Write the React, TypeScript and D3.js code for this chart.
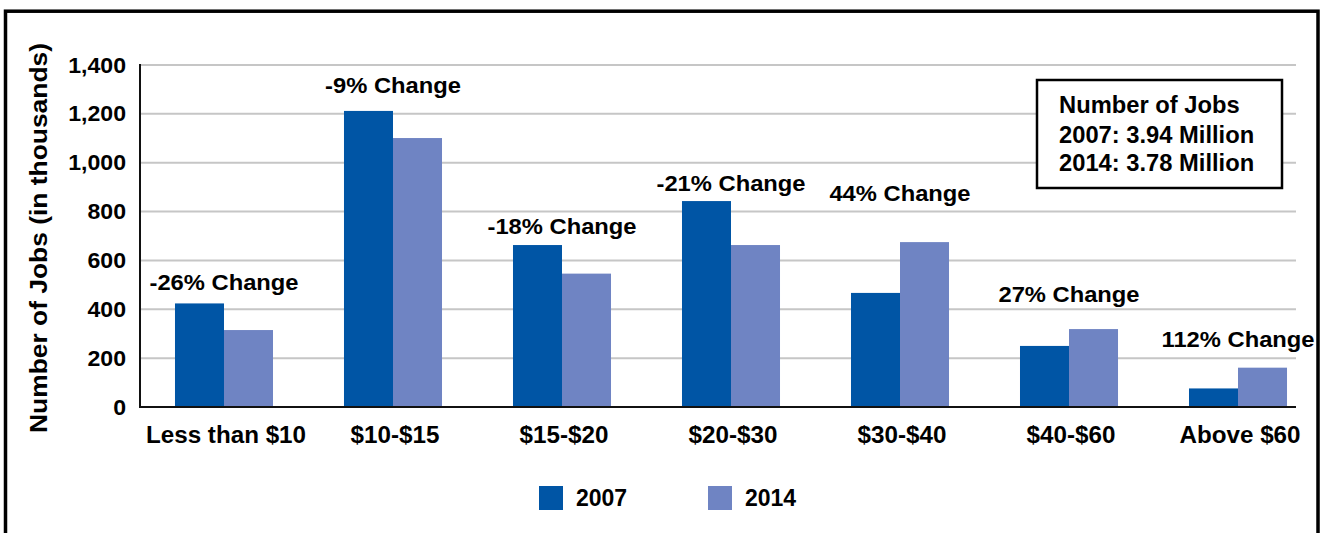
import React from "react";
import * as d3 from "d3";

const categories = ["Less than $10", "$10-$15", "$15-$20", "$20-$30", "$30-$40", "$40-$60", "Above $60"];
const seriesNames = ["2007", "2014"];
const jobs2007 = [424, 1212, 663, 843, 467, 250, 76];
const jobs2014 = [315, 1101, 546, 663, 675, 319, 161];
const changeLabels = ["-26% Change", "-9% Change", "-18% Change", "-21% Change", "44% Change", "27% Change", "112% Change"];
const changeLabelAt = [479, 1285, 708, 884, 843, 430, 246];
const yTicks = [0, 200, 400, 600, 800, 1000, 1200, 1400];
const infoTitle = "Number of Jobs";
const infoLines = ["2007: 3.94 Million", "2014: 3.78 Million"];
const yTitle = "Number of Jobs (in thousands)";

const COLORS = ["#0055A5", "#6F84C3"];
const FONT = "'Liberation Sans', Arial, Helvetica, sans-serif";

function T({ x, y, size, sx = 1, anchor = "start", rotate = 0, children }: any) {
  return (
    <g transform={`translate(${x},${y}) rotate(${rotate}) scale(${sx},1)`}>
      <text textAnchor={anchor} fontSize={size} fontWeight="bold" fontFamily={FONT} fill="#000">
        {children}
      </text>
    </g>
  );
}

export default function App() {
  const W = 1325, H = 533;
  const plotLeft = 140, plotRight = 1296;
  const y = d3.scaleLinear().domain([0, 1400]).range([407, 65]);
  const x = d3.scaleBand<string>().domain(categories).range([140, 1322]).paddingInner(0.42).paddingOuter(0.207);
  const x1 = d3.scaleBand<string>().domain(seriesNames).range([0, x.bandwidth()]);
  const fmt = d3.format(",");
  const series = [jobs2007, jobs2014];

  return (
    <svg width={W} height={H} style={{ position: "absolute", left: 0, top: 0, display: "block", background: "#fff" }}>
      <rect x={0} y={0} width={W} height={H} fill="#fff" />
      {/* outer frame */}
      <rect x={5.5} y={11.2} width={1312.5} height={560} fill="none" stroke="#000" strokeWidth={3.5} />

      {/* gridlines */}
      {yTicks.filter((t) => t > 0).map((t) => (
        <line key={t} x1={plotLeft} x2={plotRight} y1={y(t)} y2={y(t)} stroke="#c6c6c6" strokeWidth={2} />
      ))}

      {/* bars */}
      {categories.map((c, i) => (
        <g key={c} transform={`translate(${x(c)},0)`}>
          {seriesNames.map((s, j) => (
            <rect key={s} x={x1(s)} y={y(series[j][i])} width={x1.bandwidth()} height={y(0) - y(series[j][i])} fill={COLORS[j]} />
          ))}
        </g>
      ))}

      {/* axes */}
      <line x1={plotLeft} x2={plotLeft} y1={y(1400) - 1} y2={y(0) + 1} stroke="#111" strokeWidth={2} />
      <line x1={plotLeft - 1} x2={plotRight} y1={y(0)} y2={y(0)} stroke="#111" strokeWidth={2} />

      {/* y tick labels */}
      {yTicks.map((t) => (
        <T key={t} x={126} y={y(t) + 7.5} size={22} sx={1.05} anchor="end">{fmt(t)}</T>
      ))}

      {/* y title */}
      <T x={47} y={238} size={24} sx={1.1} anchor="middle" rotate={-90}>{yTitle}</T>

      {/* category labels */}
      {categories.map((c) => (
        <T key={c} x={(x(c) as number) + x.bandwidth() / 2 + 2} y={443} size={23.5} sx={1.03} anchor="middle">{c}</T>
      ))}

      {/* change labels */}
      {categories.map((c, i) => (
        <T key={c} x={(x(c) as number) + x.bandwidth() / 2} y={y(changeLabelAt[i])} size={22} sx={1.08} anchor="middle">
          {changeLabels[i]}
        </T>
      ))}

      {/* info box */}
      <rect x={1037} y={80} width={245} height={108} fill="#fff" stroke="#000" strokeWidth={2.5} />
      <T x={1059} y={113} size={23.5} sx={1.01}>{infoTitle}</T>
      {infoLines.map((l, i) => (
        <T key={l} x={1059} y={143 + i * 28} size={23.5} sx={1.01}>{l}</T>
      ))}

      {/* legend */}
      {seriesNames.map((s, j) => (
        <g key={s}>
          <rect x={539 + j * 169} y={486} width={24} height={24} fill={COLORS[j]} />
          <T x={576 + j * 169} y={506} size={23}>{s}</T>
        </g>
      ))}
    </svg>
  );
}
